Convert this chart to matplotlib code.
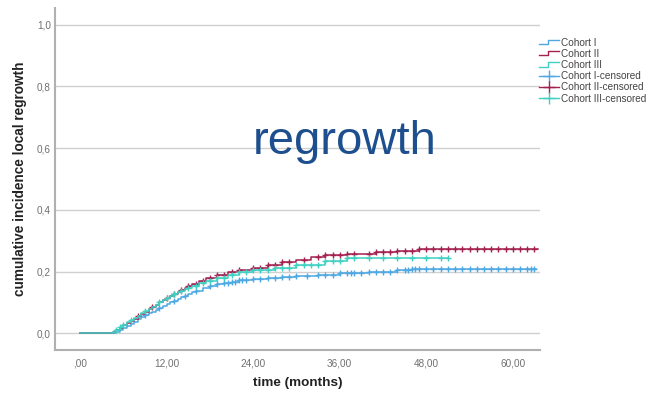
import numpy as np
import matplotlib
matplotlib.use("Agg")
import matplotlib.pyplot as plt
from matplotlib.lines import Line2D
from matplotlib.legend_handler import HandlerBase

plt.rcParams['font.family'] = ['Liberation Sans', 'DejaVu Sans']

# cumulative incidence step curves (time in months)
t_c1 = [0, 5, 5.5, 6, 6.5, 7, 7.5, 8, 8.5, 9, 9.5, 10, 10.5, 11, 11.5, 12, 12.5, 13, 13.5, 14, 14.5, 15, 15.5,
        16, 17, 18, 19, 20, 21, 22, 23, 24, 26, 28, 30, 33, 36, 40, 44, 46]
y_c1 = [0, .004, .01, .016, .023, .03, .037, .045, .051, .058, .064, .07, .076, .082, .088, .095, .1, .106, .111,
        .117, .122, .127, .132, .137, .145, .152, .158, .163, .167, .172, .173, .175, .178, .181, .184, .188,
        .195, .198, .204, .208]
end_c1 = 63.2

t_c2 = [0, 4.5, 5, 5.5, 6, 6.5, 7, 7.5, 8, 8.5, 9, 9.5, 10, 10.5, 11, 11.5, 12, 12.5, 13, 13.5, 14, 14.5, 15,
        15.5, 16.5, 17.5, 19, 20.5, 22, 24, 26, 28, 30, 32, 34, 37, 41, 44, 47]
y_c2 = [0, .005, .011, .018, .025, .032, .04, .047, .055, .062, .07, .078, .085, .093, .1, .108, .115, .122, .128,
        .135, .141, .148, .154, .16, .17, .18, .19, .197, .205, .213, .222, .232, .238, .248, .253, .258, .262,
        .266, .272]
end_c2 = 63.5

t_c3 = [0, 4.5, 5, 5.5, 6, 6.5, 7, 7.5, 8, 8.5, 9, 9.5, 10, 10.5, 11, 11.5, 12, 12.5, 13, 13.5, 14, 14.5, 15,
        15.5, 16.5, 17.5, 19, 20.5, 22, 24, 27, 30, 34, 37]
y_c3 = [0, .005, .012, .02, .027, .035, .042, .05, .057, .064, .072, .079, .086, .093, .1, .107, .113, .12, .126,
        .132, .138, .143, .148, .153, .162, .17, .18, .19, .198, .205, .212, .222, .235, .245]
end_c3 = 51

# censoring times
cens_c1 = [9, 11, 13, 14.5, 16, 18, 19, 20, 20.5, 21, 21.5, 22, 22.5, 23, 24, 25, 26, 27, 28, 29, 30, 31.5, 33,
           34, 35, 36, 37, 37.5, 38, 39, 40, 41, 42, 43, 44, 45, 45.5, 46, 46.5, 47, 48, 49, 50, 51, 52, 53, 54,
           55, 56, 57, 58, 59, 60, 61, 62, 62.5, 63]
cens_c2 = [8, 10, 12, 13, 14, 15, 16, 17, 18, 19, 20, 21, 22, 24, 25, 26, 27, 28, 29, 31, 33, 34, 35, 36, 37,
           38, 40, 41, 42, 43, 44, 45, 46, 47, 48, 49, 50, 51, 52, 53, 54, 55, 56, 57, 58, 59, 60, 61, 62, 63]
cens_c3 = [5, 5.5, 6, 7, 9, 11, 12, 13, 14, 15, 16, 17, 18, 19, 20, 21, 22, 23, 24, 25, 26, 27, 28, 29, 30, 31,
           32, 33, 34, 35, 36, 37, 38, 40, 42, 44, 46, 48, 50, 51]

labels = ['Cohort I', 'Cohort II', 'Cohort III']
colors = ['#4ea8e2', '#a3204f', '#3fd0c2']
xticks = [0, 12, 24, 36, 48, 60]
xtick_labels = [',00', '12,00', '24,00', '36,00', '48,00', '60,00']
yticks = [0, .2, .4, .6, .8, 1.0]
ytick_labels = ['0,0', '0,2', '0,4', '0,6', '0,8', '1,0']


class StepHandler(HandlerBase):
    def create_artists(self, legend, orig, xd, yd, w, h, fontsize, trans):
        x = np.array([xd, xd + w * .45, xd + w * .45, xd + w])
        y = np.array([yd + h * .2, yd + h * .2, yd + h * .8, yd + h * .8])
        ln = Line2D(x, y, color=orig.get_color(), lw=1)
        ln.set_transform(trans)
        return [ln]


fig = plt.figure(figsize=(6.54, 3.93), dpi=100)
ax = fig.add_axes([0.084, 0.109, 0.742, 0.871])

curves = [(t_c1, y_c1, end_c1, cens_c1), (t_c2, y_c2, end_c2, cens_c2), (t_c3, y_c3, end_c3, cens_c3)]
step_handles = []
cens_handles = []
for (t, y, end, cens), col, lab in zip(curves, colors, labels):
    tt = list(t) + [end]
    yy = list(y) + [y[-1]]
    ln, = ax.plot(tt, yy, drawstyle='steps-post', color=col, lw=1.1)
    idx = np.searchsorted(t, cens, side='right') - 1
    cy = np.array(y)[idx]
    ax.plot(cens, cy, ls='none', marker='+', ms=5, mew=1, color=col)
    step_handles.append(ln)
    cens_handles.append(Line2D([], [], color=col, lw=1, marker='+', ms=8, mew=1))

ax.set_xlim(-3.5, 63.8)
ax.set_ylim(-0.055, 1.055)
ax.set_xticks(xticks)
ax.set_xticklabels(xtick_labels)
ax.set_yticks(yticks)
ax.set_yticklabels(ytick_labels)
ax.tick_params(length=0, labelsize=7.2, labelcolor='#707070')
ax.tick_params(axis='y', pad=3)
ax.tick_params(axis='x', pad=6)
ax.grid(axis='y', color='#d0d0d0', lw=1)
ax.set_axisbelow(True)
for s in ['top', 'right']:
    ax.spines[s].set_visible(False)
for s in ['left', 'bottom']:
    ax.spines[s].set_color('#b0b0b0')
    ax.spines[s].set_linewidth(1.5)

ax.set_xlabel('time (months)', fontsize=9.7, fontweight='bold', color='#222222', labelpad=6)
ax.set_ylabel('cumulative incidence local regrowth', fontsize=9.8, fontweight='bold', color='#222222', labelpad=7)

handler_map = {h: StepHandler() for h in step_handles}
ax.legend(step_handles + cens_handles,
          labels + [l + '-censored' for l in labels],
          handler_map=handler_map, loc='upper left', bbox_to_anchor=(0.989, 0.925),
          frameon=False, fontsize=7.2, labelcolor='#444444', handlelength=2.0,
          handletextpad=0.2, labelspacing=0.12, borderaxespad=0)

fig.text(345 / 654, 1 - 142 / 393, 'regrowth', fontsize=34, color='#1d4f8e', ha='center', va='center')

fig.savefig('out.png', dpi=100)
